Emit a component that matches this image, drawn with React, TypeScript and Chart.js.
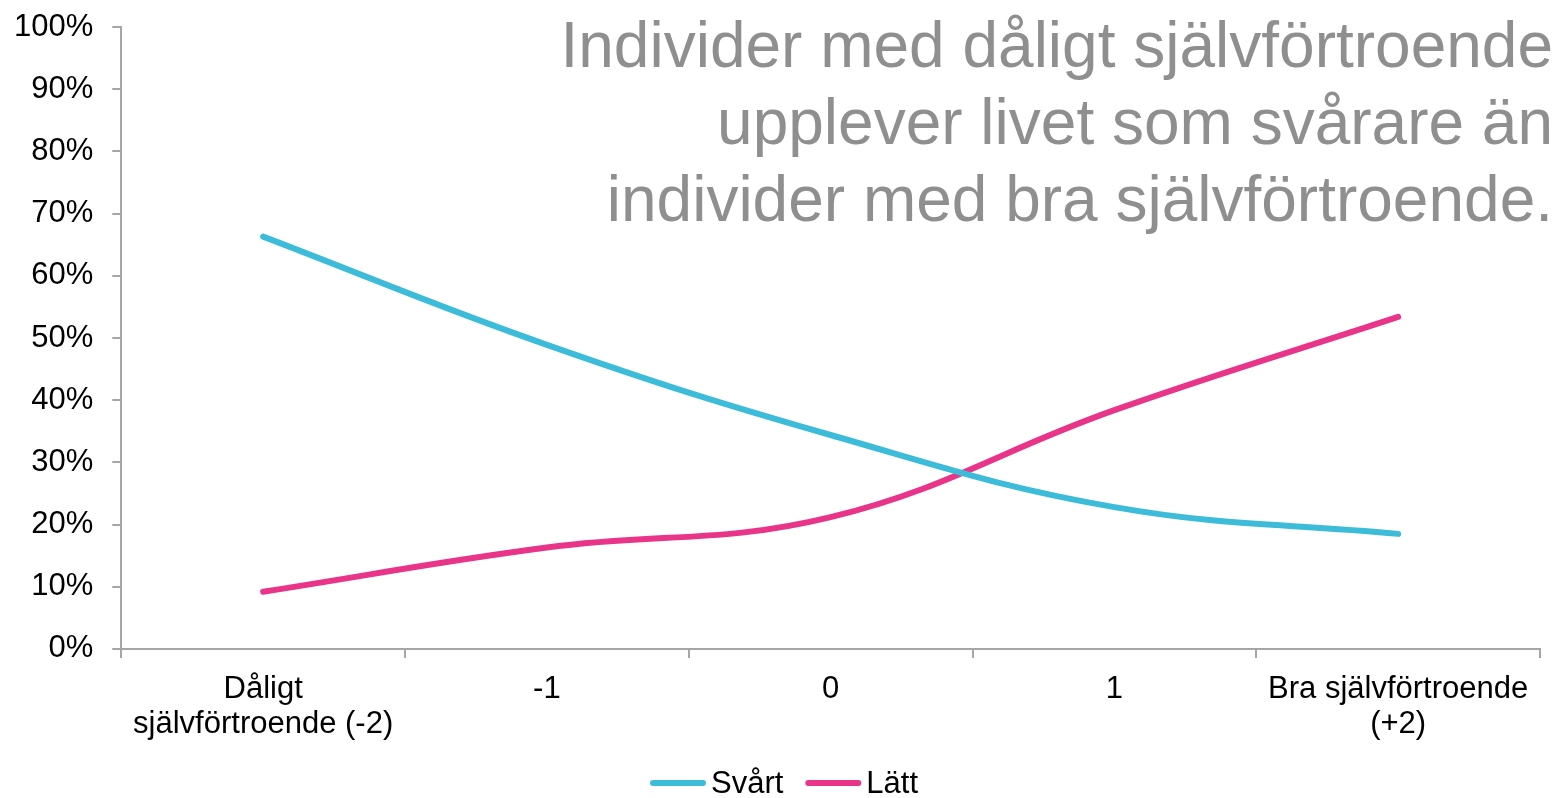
import React, { useEffect, useRef } from "react";
import { Chart, registerables } from "chart.js";

Chart.register(...registerables);

const CATEGORIES: (string | string[])[] = [
  ["Dåligt", "självförtroende (-2)"],
  "-1",
  "0",
  "1",
  ["Bra självförtroende", "(+2)"],
];
const SVART: number[] = [66.3, 48.9, 34.4, 22.8, 18.5];
const LATT: number[] = [9.2, 16.3, 21.2, 38.4, 53.4];
const SERIES_NAMES = ["Svårt", "Lätt"];
const SERIES_COLORS = ["#3cbcd8", "#e83589"];
const Y_TICKS_STEP = 10;
const TITLE_LINES = [
  "Individer med dåligt självförtroende",
  "upplever livet som svårare än",
  "individer med bra självförtroende.",
];

const FONT = "'Liberation Sans', Arial, sans-serif";
const AXIS_COLOR = "#a6a6a6";

const legendPlugin = {
  id: "customLegend",
  afterDraw(chart: any) {
    const ctx = chart.ctx as CanvasRenderingContext2D;
    const lineW = 56;
    const gapText = 5;
    const gapItem = 22;
    const y = 783;
    ctx.save();
    ctx.font = `31px ${FONT}`;
    const items = chart.data.datasets.map((d: any) => ({
      label: d.label as string,
      color: d.borderColor as string,
      w: ctx.measureText(d.label).width,
    }));
    let total = 0;
    items.forEach((it: any, i: number) => {
      total += lineW + gapText + it.w + (i > 0 ? gapItem : 0);
    });
    let x = 784 - total / 2;
    items.forEach((it: any) => {
      ctx.strokeStyle = it.color;
      ctx.lineWidth = 6;
      ctx.lineCap = "round";
      ctx.beginPath();
      ctx.moveTo(x + 3, y);
      ctx.lineTo(x + lineW - 3, y);
      ctx.stroke();
      ctx.fillStyle = "#000";
      ctx.textAlign = "left";
      ctx.textBaseline = "middle";
      ctx.fillText(it.label, x + lineW + gapText, y + 1);
      x += lineW + gapText + it.w + gapItem;
    });
    ctx.restore();
  },
};

export default function App() {
  const canvasRef = useRef<HTMLCanvasElement | null>(null);

  useEffect(() => {
    document.body.style.margin = "0";
    const canvas = canvasRef.current;
    if (!canvas) return;
    const chart = new Chart(canvas, {
      type: "line",
      data: {
        labels: CATEGORIES,
        datasets: [
          {
            label: SERIES_NAMES[0],
            data: SVART,
            borderColor: SERIES_COLORS[0],
            backgroundColor: SERIES_COLORS[0],
            borderWidth: 6,
            borderCapStyle: "round",
            pointRadius: 0,
            tension: 0.4,
          },
          {
            label: SERIES_NAMES[1],
            data: LATT,
            borderColor: SERIES_COLORS[1],
            backgroundColor: SERIES_COLORS[1],
            borderWidth: 6,
            borderCapStyle: "round",
            pointRadius: 0,
            tension: 0.4,
          },
        ],
      },
      plugins: [legendPlugin],
      options: {
        animation: false,
        responsive: true,
        maintainAspectRatio: false,
        layout: { padding: { left: -5, right: 18, top: 27, bottom: 42 } },
        plugins: {
          title: { display: false },
          tooltip: { enabled: false },
          legend: { display: false },
        },
        scales: {
          x: {
            type: "category",
            offset: true,
            grid: {
              display: true,
              offset: true,
              drawOnChartArea: false,
              drawTicks: true,
              tickLength: 9,
              color: AXIS_COLOR,
              lineWidth: 2,
            },
            border: { display: true, color: AXIS_COLOR, width: 2 },
            ticks: {
              color: "#000",
              padding: 14,
              maxRotation: 0,
              autoSkip: false,
              font: { family: FONT, size: 31, lineHeight: 1.13 },
            },
          },
          y: {
            min: 0,
            max: 100,
            afterFit: (s: any) => {
              s.paddingTop = 0;
              s.paddingBottom = 0;
            },
            grid: {
              display: true,
              drawOnChartArea: false,
              drawTicks: true,
              tickLength: 9,
              color: AXIS_COLOR,
              lineWidth: 2,
            },
            border: { display: true, color: AXIS_COLOR, width: 2 },
            ticks: {
              stepSize: Y_TICKS_STEP,
              color: "#000",
              padding: 19,
              font: { family: FONT, size: 31 },
              callback: (v: any) => `${v}%`,
            },
          },
        },
      },
    });
    return () => chart.destroy();
  }, []);

  return (
    <div style={{ position: "absolute", left: 0, top: 0, width: 1558, height: 798, background: "#fff" }}>
      <canvas ref={canvasRef} />
      <div
        style={{
          position: "absolute",
          right: 5,
          top: 7,
          fontFamily: FONT,
          fontSize: 64,
          lineHeight: "76.8px",
          color: "#8f8f8f",
          textAlign: "right",
          whiteSpace: "nowrap",
          pointerEvents: "none",
        }}
      >
        {TITLE_LINES.map((l, i) => (
          <div key={i}>{l}</div>
        ))}
      </div>
    </div>
  );
}
